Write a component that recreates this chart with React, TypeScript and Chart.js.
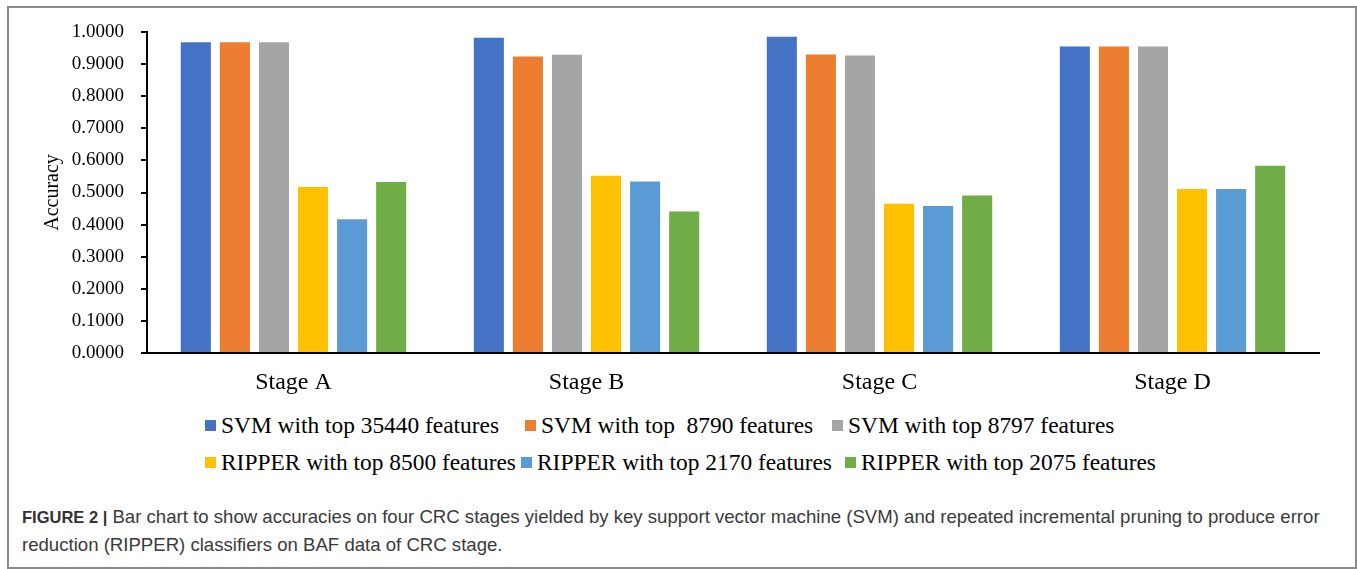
import React, { useEffect, useRef } from "react";
import { Chart, registerables } from "chart.js";

Chart.register(...registerables);

const categories = ["Stage A", "Stage B", "Stage C", "Stage D"];
const seriesNames = [
  "SVM with top 35440 features",
  "SVM with top  8790 features",
  "SVM with top 8797 features",
  "RIPPER with top 8500 features",
  "RIPPER with top 2170 features",
  "RIPPER with top 2075 features",
];
const seriesColors = ["#4472C4", "#ED7D31", "#A5A5A5", "#FFC000", "#5B9BD5", "#70AD47"];
const svm35440 = [0.968, 0.982, 0.985, 0.955];
const svm8790 = [0.968, 0.924, 0.930, 0.955];
const svm8797 = [0.968, 0.929, 0.927, 0.955];
const ripper8500 = [0.517, 0.552, 0.465, 0.511];
const ripper2170 = [0.417, 0.534, 0.458, 0.511];
const ripper2075 = [0.533, 0.441, 0.491, 0.583];
const seriesValues = [svm35440, svm8790, svm8797, ripper8500, ripper2170, ripper2075];
const yTicks = [0, 0.1, 0.2, 0.3, 0.4, 0.5, 0.6, 0.7, 0.8, 0.9, 1.0];

const serif = "'Liberation Serif', 'Times New Roman', serif";
const legendLeft = [205, 525, 832, 205, 521, 845];
const legendTop = [411, 411, 411, 448, 448, 448];

export default function App() {
  const ref = useRef<HTMLCanvasElement | null>(null);

  useEffect(() => {
    if (!ref.current) return;
    const chart = new Chart(ref.current, {
      type: "bar",
      data: {
        labels: categories,
        datasets: seriesNames.map((name, i) => ({
          label: name,
          data: seriesValues[i],
          backgroundColor: seriesColors[i],
          borderWidth: 0,
          categoryPercentage: 0.8,
          barPercentage: 0.77,
        })),
      },
      options: {
        animation: false,
        responsive: false,
        maintainAspectRatio: false,
        layout: { padding: { top: 32, right: 38, left: 0, bottom: 0 } },
        plugins: {
          legend: { display: false },
          tooltip: { enabled: false },
        },
        scales: {
          x: {
            grid: { display: false },
            border: { display: true, color: "#000", width: 2 },
            ticks: {
              color: "#000",
              font: { family: serif, size: 24 },
              padding: 7,
            },
            afterFit: (s: any) => {
              s.height = 47;
            },
          },
          y: {
            min: 0,
            max: 1,
            afterBuildTicks: (s: any) => {
              s.ticks = yTicks.map((v) => ({ value: v }));
            },
            grid: {
              display: true,
              drawOnChartArea: false,
              drawTicks: true,
              tickLength: 6,
              color: "#000",
              lineWidth: 2,
            },
            border: { display: true, color: "#000", width: 2 },
            ticks: {
              color: "#000",
              font: { family: serif, size: 19 },
              padding: 17,
              callback: (v: any) => Number(v).toFixed(4),
            },
            title: {
              display: true,
              text: "Accuracy",
              color: "#000",
              font: { family: serif, size: 20 },
              padding: { top: 41, bottom: 0 },
            },
            afterFit: (s: any) => {
              s.width = 147;
            },
          },
        },
      },
    });
    return () => chart.destroy();
  }, []);

  return (
    <div
      style={{
        position: "absolute",
        left: 0,
        top: 0,
        width: 1357,
        height: 569,
        background: "#fff",
        overflow: "hidden",
      }}
    >
      <div
        style={{
          position: "absolute",
          left: 7,
          top: 6,
          width: 1346,
          height: 559,
          border: "2px solid #8a8a8a",
        }}
      />
      <canvas
        ref={ref}
        width={1357}
        height={400}
        style={{ position: "absolute", left: 0, top: 0, width: 1357, height: 400 }}
      />
      {seriesNames.map((n, i) => (
        <div
          key={i}
          style={{
            position: "absolute",
            left: legendLeft[i],
            top: legendTop[i],
            display: "flex",
            alignItems: "center",
            fontFamily: serif,
            fontSize: 23.4,
            lineHeight: "28px",
            color: "#000",
            whiteSpace: "pre",
          }}
        >
          <span
            style={{
              display: "inline-block",
              width: 11,
              height: 11,
              background: seriesColors[i],
              marginRight: 5,
            }}
          />
          <span>{n}</span>
        </div>
      ))}
      <div
        style={{
          position: "absolute",
          left: 22,
          top: 503,
          width: 1330,
          fontFamily: "'Liberation Sans', Arial, sans-serif",
          fontSize: 18.6,
          lineHeight: "27px",
          color: "#3a3a3a",
          whiteSpace: "nowrap",
        }}
      >
        <b style={{ color: "#333", fontSize: 16.5 }}>FIGURE 2 |</b> Bar chart to show accuracies on four CRC stages yielded by key support vector machine (SVM) and repeated incremental pruning to produce error
        <br />
        reduction (RIPPER) classifiers on BAF data of CRC stage.
      </div>
    </div>
  );
}
